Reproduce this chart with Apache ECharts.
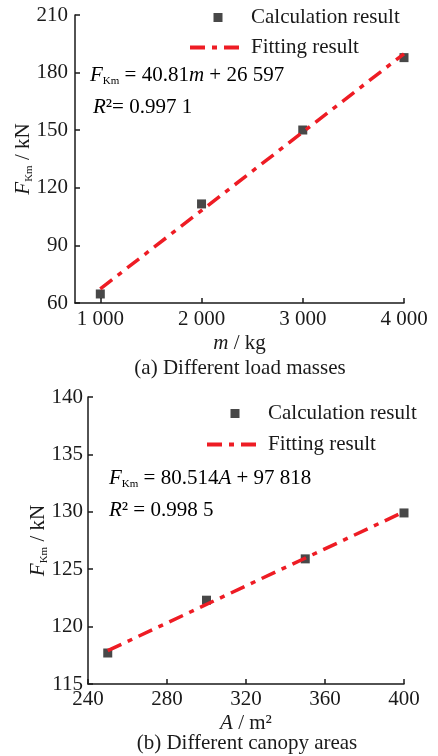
<!DOCTYPE html>
<html>
<head>
<meta charset="utf-8">
<script src="https://cdn.jsdelivr.net/npm/echarts@6/dist/echarts.min.js"></script>
<style>
  html, body { margin: 0; padding: 0; background: #fff; }
  #chart { width: 438px; height: 756px; }
</style>
</head>
<body>
<div id="chart"></div>
<script>
// (a) load mass
const massValues = [1000, 2000, 3000, 4000];
const massForce = [64.7, 111.6, 150.1, 187.8];
const massFitX = [1000, 4000];
const massFitY = [67.4, 189.8];
const massTicks = [1000, 2000, 3000, 4000];

// (b) canopy area
const areaValues = [250, 300, 350, 400];
const areaForce = [117.7, 122.3, 125.9, 129.9];
const areaFitX = [250, 400];
const areaFitY = [117.9, 130.0];

const FONT = 'Liberation Serif';
const FS = 21;
const INK = '#1a1a1a';
const RED = '#ee1c24';
const DASH = [15, 7, 5, 7];

const chart = echarts.init(document.getElementById('chart'));

const thousands = v => {
  const s = String(Math.round(v));
  return s.length > 3 ? s.slice(0, -3) + ' ' + s.slice(-3) : s;
};

const subRich = {
  i: { fontFamily: FONT, fontStyle: 'italic', fontSize: FS, color: INK },
  n: { fontFamily: FONT, fontSize: FS, color: INK },
  s: { fontFamily: FONT, fontSize: 11, color: INK, padding: [12, 0, 0, 0] }
};

const axisCommon = {
  nameMoveOverlap: false,
  axisLine: { show: true, lineStyle: { color: INK, width: 1.5 } },
  axisTick: { show: true, inside: true, length: 5, lineStyle: { color: INK, width: 1.5 } },
  splitLine: { show: false },
  axisLabel: { fontFamily: FONT, fontSize: FS, color: INK }
};

const legendFor = (top, left, gap) => ({
  orient: 'vertical',
  left: left,
  top: top,
  padding: 0,
  itemGap: gap,
  itemWidth: 56,
  itemHeight: 9,
  textStyle: { fontFamily: FONT, fontSize: FS, color: INK },
  lineStyle: { width: 4, type: DASH, color: RED },
  data: [
    { name: 'Calculation result', icon: 'path://M0,0H10V10H0Z' },
    { name: 'Fitting result', itemStyle: { color: 'rgba(0,0,0,0)', borderWidth: 0 } }
  ]
});

const option = {
  animation: false,
  backgroundColor: '#fff',
  legend: [legendFor(7, 188, 9), legendFor(403, 205, 10)],
  grid: [
    { left: 75, top: 15, width: 329, height: 288 },
    { left: 88, top: 397, width: 316, height: 287 }
  ],
  xAxis: [
    Object.assign({}, axisCommon, {
      gridIndex: 0, type: 'value', min: 750, max: 4000,
      name: '{i|m}{n| / kg}', nameLocation: 'middle', nameGap: 30,
      nameTextStyle: { rich: subRich },
      axisTick: Object.assign({}, axisCommon.axisTick, { customValues: massTicks }),
      axisLabel: Object.assign({}, axisCommon.axisLabel, { customValues: massTicks, margin: 6, formatter: thousands })
    }),
    Object.assign({}, axisCommon, {
      gridIndex: 1, type: 'value', min: 240, max: 400, interval: 40,
      name: '{i|A}{n| / m²}', nameLocation: 'middle', nameGap: 29,
      nameTextStyle: { rich: subRich },
      axisLabel: Object.assign({}, axisCommon.axisLabel, { margin: 5 })
    })
  ],
  yAxis: [
    Object.assign({}, axisCommon, {
      gridIndex: 0, type: 'value', min: 60, max: 210, interval: 30,
      name: '{i|F}{s|Km}{n| / kN}', nameLocation: 'middle', nameGap: 40,
      nameTextStyle: { rich: subRich },
      axisLabel: Object.assign({}, axisCommon.axisLabel, { margin: 7 })
    }),
    Object.assign({}, axisCommon, {
      gridIndex: 1, type: 'value', min: 115, max: 140, interval: 5,
      name: '{i|F}{s|Km}{n| / kN}', nameLocation: 'middle', nameGap: 38,
      nameTextStyle: { rich: subRich },
      axisLabel: Object.assign({}, axisCommon.axisLabel, { margin: 5 })
    })
  ],
  series: [
    {
      name: 'Calculation result', type: 'scatter', xAxisIndex: 0, yAxisIndex: 0,
      symbol: 'rect', symbolSize: 9, itemStyle: { color: INK }, z: 3,
      data: massValues.map((m, i) => [m, massForce[i]])
    },
    {
      name: 'Fitting result', type: 'line', xAxisIndex: 0, yAxisIndex: 0,
      showSymbol: false, symbol: 'none', z: 4, itemStyle: { color: RED },
      lineStyle: { color: RED, width: 3.5, type: DASH },
      data: massFitX.map((m, i) => [m, massFitY[i]])
    },
    {
      name: 'Calculation result', type: 'scatter', xAxisIndex: 1, yAxisIndex: 1,
      symbol: 'rect', symbolSize: 9, itemStyle: { color: INK }, z: 3,
      data: areaValues.map((a, i) => [a, areaForce[i]])
    },
    {
      name: 'Fitting result', type: 'line', xAxisIndex: 1, yAxisIndex: 1,
      showSymbol: false, symbol: 'none', z: 4, itemStyle: { color: RED },
      lineStyle: { color: RED, width: 3.5, type: DASH },
      data: areaFitX.map((a, i) => [a, areaFitY[i]])
    }
  ],
  graphic: [
    { type: 'text', x: 90, y: 75, style: {
      text: '{i|F}{s|Km}{n| = 40.81}{i|m}{n| + 26 597}', rich: subRich, verticalAlign: 'middle' } },
    { type: 'text', x: 93, y: 107, style: {
      text: '{i|R}{n|²= 0.997 1}', rich: subRich, verticalAlign: 'middle' } },
    { type: 'text', x: 240, y: 368, style: {
      text: '(a) Different load masses', font: FS + 'px "Liberation Serif"', fill: INK,
      align: 'center', verticalAlign: 'middle' } },
    { type: 'text', x: 109, y: 478, style: {
      text: '{i|F}{s|Km}{n| = 80.514}{i|A}{n| + 97 818}', rich: subRich, verticalAlign: 'middle' } },
    { type: 'text', x: 109, y: 510, style: {
      text: '{i|R}{n|² = 0.998 5}', rich: subRich, verticalAlign: 'middle' } },
    { type: 'text', x: 247, y: 743, style: {
      text: '(b) Different canopy areas', font: FS + 'px "Liberation Serif"', fill: INK,
      align: 'center', verticalAlign: 'middle' } }
  ]
};

chart.setOption(option);
</script>
</body>
</html>
